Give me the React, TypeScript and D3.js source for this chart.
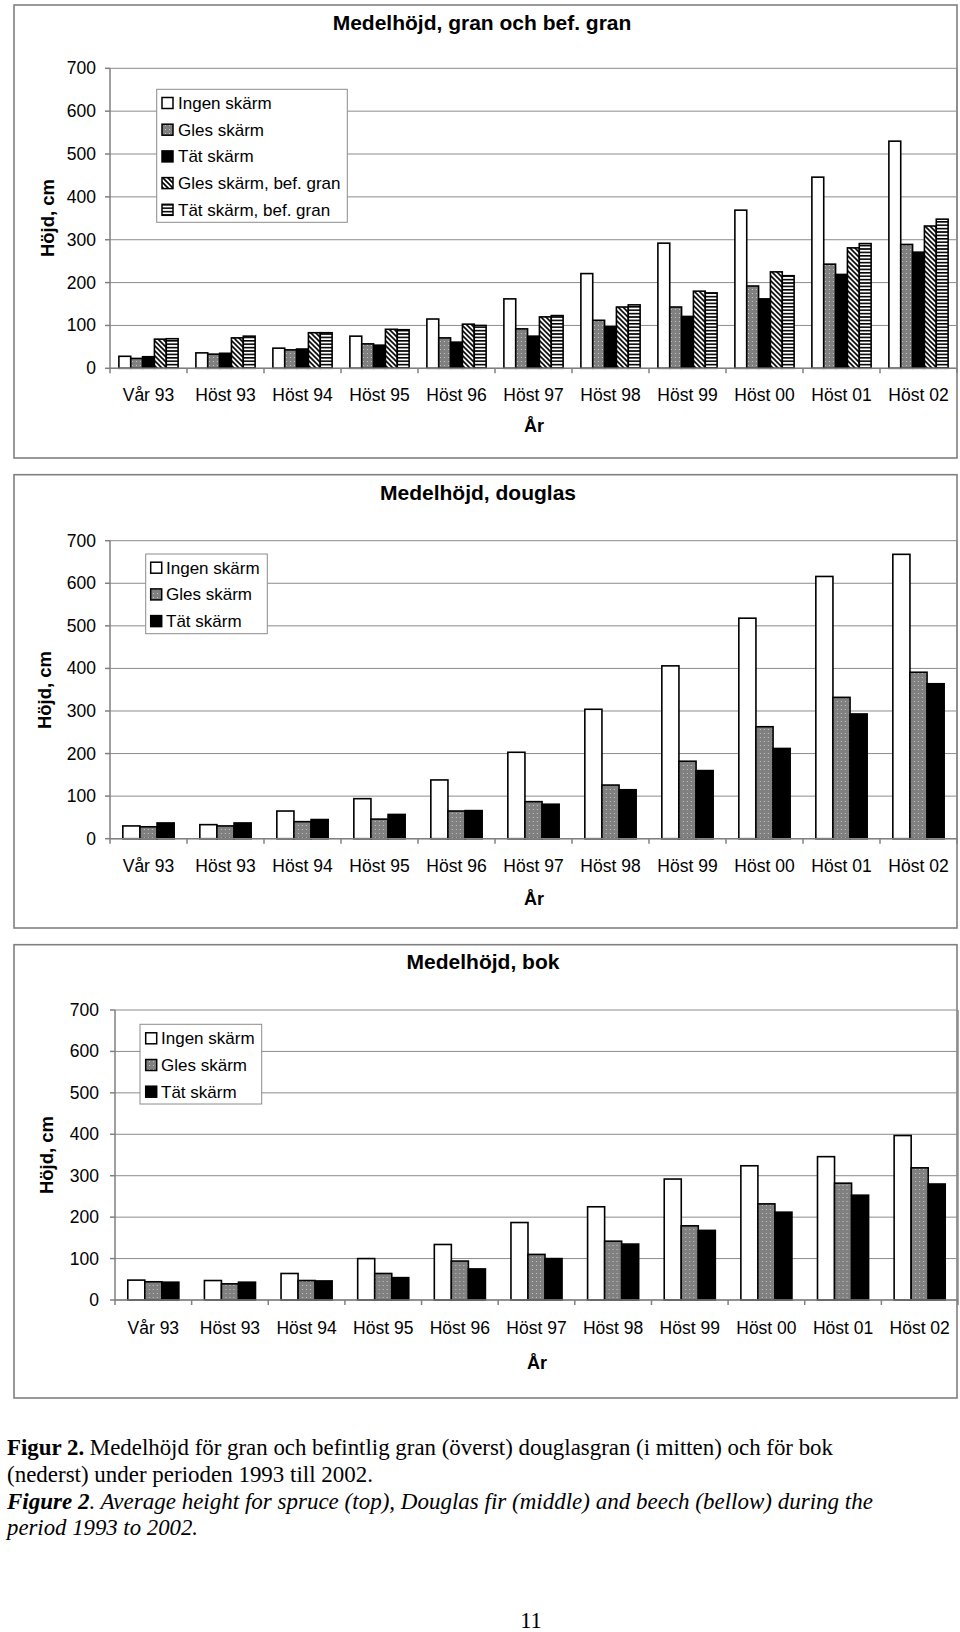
import * as d3 from 'd3';

const categories = ['Vår 93', 'Höst 93', 'Höst 94', 'Höst 95', 'Höst 96', 'Höst 97', 'Höst 98', 'Höst 99', 'Höst 00', 'Höst 01', 'Höst 02'];
const yTicks = [0, 100, 200, 300, 400, 500, 600, 700];

// gran och bef. gran
const granIngen = [28, 36, 47, 75, 115, 162, 221, 292, 369, 446, 530];
const granGles = [23, 33, 43, 57, 71, 92, 112, 143, 192, 243, 289];
const granTat = [27, 35, 45, 54, 61, 75, 97, 121, 162, 219, 271];
const granGlesBef = [68, 71, 83, 91, 103, 120, 143, 180, 225, 281, 332];
const granTatBef = [69, 75, 83, 90, 100, 123, 148, 176, 216, 291, 348];

// douglas
const douglasIngen = [30, 33, 65, 94, 138, 203, 304, 406, 518, 616, 668];
const douglasGles = [28, 30, 40, 46, 65, 87, 126, 182, 263, 332, 391];
const douglasTat = [37, 37, 45, 57, 66, 81, 115, 160, 212, 293, 364];

// bok
const bokIngen = [48, 47, 64, 100, 134, 187, 225, 292, 324, 346, 397];
const bokGles = [44, 39, 47, 64, 94, 110, 142, 179, 232, 282, 319];
const bokTat = [43, 43, 46, 54, 75, 100, 135, 168, 212, 253, 280];

const seriesNames = ['Ingen skärm', 'Gles skärm', 'Tät skärm', 'Gles skärm, bef. gran', 'Tät skärm, bef. gran'];
const fills = ['#ffffff', 'url(#dots)', '#000000', 'url(#hatch)', 'url(#stripes)'];

const SANS = '"Liberation Sans", Arial, sans-serif';
const SERIF = '"Liberation Serif", "Times New Roman", serif';

interface Panel {
  title: string;
  series: number[][];
  box: { x: number; y: number; w: number; h: number };
  plot: { left: number; right: number; top: number; bottom: number };
  titleX: number;
  titleY: number;
  legend: { x: number; y: number; w: number; h: number; rowY: number; swatchX: number; textX: number };
  tickRight: number;
  catY: number;
  arX: number;
  arY: number;
  yTitleX: number;
  yTitleY: number;
}

const panels: Panel[] = [
  {
    title: 'Medelhöjd, gran och bef. gran',
    series: [granIngen, granGles, granTat, granGlesBef, granTatBef],
    box: { x: 14, y: 5, w: 943, h: 453 },
    plot: { left: 110, right: 957, top: 68.3, bottom: 368.3 },
    titleX: 482,
    titleY: 30,
    legend: { x: 156.7, y: 89.3, w: 190.6, h: 133, rowY: 103, swatchX: 162, textX: 178 },
    tickRight: 96,
    catY: 401,
    arX: 534,
    arY: 432,
    yTitleX: 54,
    yTitleY: 218,
  },
  {
    title: 'Medelhöjd, douglas',
    series: [douglasIngen, douglasGles, douglasTat],
    box: { x: 14, y: 474.7, w: 943, h: 453.3 },
    plot: { left: 110, right: 957, top: 540.7, bottom: 838.7 },
    titleX: 478,
    titleY: 500,
    legend: { x: 145.7, y: 554, w: 121.6, h: 79.7, rowY: 567.7, swatchX: 150.7, textX: 166 },
    tickRight: 96,
    catY: 872,
    arX: 534,
    arY: 905,
    yTitleX: 51,
    yTitleY: 690,
  },
  {
    title: 'Medelhöjd, bok',
    series: [bokIngen, bokGles, bokTat],
    box: { x: 14, y: 944.7, w: 943, h: 453.3 },
    plot: { left: 115, right: 958, top: 1010, bottom: 1300 },
    titleX: 483,
    titleY: 969,
    legend: { x: 140, y: 1024.3, w: 121.7, h: 79.7, rowY: 1038.3, swatchX: 145.7, textX: 161 },
    tickRight: 99,
    catY: 1334,
    arX: 537,
    arY: 1369,
    yTitleX: 53,
    yTitleY: 1155,
  },
];

function ChartPanel({ p }: { p: Panel }) {
  const n = p.series.length;
  const x = d3.scaleBand<string>().domain(categories).range([p.plot.left, p.plot.right]);
  const step = x.step();
  const barW = step / (n + 1.5);
  const gap = step - barW * n;
  const inner = d3.scaleBand<number>().domain(d3.range(n)).range([0, barW * n]);
  const y = d3.scaleLinear().domain([0, 700]).range([p.plot.bottom, p.plot.top]);

  return (
    <g>
      <rect x={p.box.x} y={p.box.y} width={p.box.w} height={p.box.h} fill="#fff" stroke="#808080" strokeWidth={1.6} />
      <text x={p.titleX} y={p.titleY} textAnchor="middle" fontFamily={SANS} fontWeight="bold" fontSize={21}>
        {p.title}
      </text>
      {/* gridlines */}
      {yTicks.map((t) => (
        <line key={t} x1={p.plot.left} x2={p.plot.right} y1={y(t)} y2={y(t)} stroke="#8c8c8c" strokeWidth={1} />
      ))}
      <line x1={p.plot.right} x2={p.plot.right} y1={p.plot.top} y2={p.plot.bottom} stroke="#8c8c8c" strokeWidth={1.5} />
      {/* y axis */}
      <line x1={p.plot.left} x2={p.plot.left} y1={p.plot.top} y2={p.plot.bottom} stroke="#808080" strokeWidth={1.5} />
      {yTicks.map((t) => (
        <g key={t}>
          <line x1={p.plot.left - 5} x2={p.plot.left} y1={y(t)} y2={y(t)} stroke="#808080" strokeWidth={1.5} />
          <text x={p.tickRight} y={y(t) + 6} textAnchor="end" fontFamily={SANS} fontSize={17.5}>
            {t}
          </text>
        </g>
      ))}
      {/* bars */}
      {categories.map((c, i) => (
        <g key={c} transform={`translate(${(x(c) ?? 0) + gap / 2},0)`}>
          {p.series.map((s, k) => (
            <rect
              key={k}
              x={inner(k)}
              y={y(s[i])}
              width={inner.bandwidth()}
              height={y(0) - y(s[i])}
              fill={fills[k]}
              stroke="#000"
              strokeWidth={1.6}
            />
          ))}
        </g>
      ))}
      {/* x axis */}
      <line x1={p.plot.left} x2={p.plot.right} y1={y(0)} y2={y(0)} stroke="#808080" strokeWidth={1.5} />
      {categories.map((c) => (
        <line key={c} x1={x(c)} x2={x(c)} y1={y(0)} y2={y(0) + 5} stroke="#808080" strokeWidth={1.5} />
      ))}
      <line x1={p.plot.right} x2={p.plot.right} y1={y(0)} y2={y(0) + 5} stroke="#808080" strokeWidth={1.5} />
      {categories.map((c) => (
        <text key={c} x={(x(c) ?? 0) + step / 2} y={p.catY} textAnchor="middle" fontFamily={SANS} fontSize={17.5}>
          {c}
        </text>
      ))}
      <text x={p.arX} y={p.arY} textAnchor="middle" fontFamily={SANS} fontWeight="bold" fontSize={18}>
        År
      </text>
      <text
        transform={`translate(${p.yTitleX},${p.yTitleY}) rotate(-90)`}
        textAnchor="middle"
        fontFamily={SANS}
        fontWeight="bold"
        fontSize={18.5}
      >
        Höjd, cm
      </text>
      {/* legend */}
      <rect x={p.legend.x} y={p.legend.y} width={p.legend.w} height={p.legend.h} fill="#fff" stroke="#8c8c8c" strokeWidth={1} />
      {p.series.map((_, k) => {
        const ry = p.legend.rowY + k * 26.7;
        return (
          <g key={k}>
            <rect x={p.legend.swatchX} y={ry - 5.5} width={11} height={11} fill={fills[k]} stroke="#000" strokeWidth={1.5} />
            <text x={p.legend.textX} y={ry + 6} fontFamily={SANS} fontSize={17}>
              {seriesNames[k]}
            </text>
          </g>
        );
      })}
    </g>
  );
}

export default function App() {
  return (
    <div style={{ position: 'absolute', left: 0, top: 0 }}>
      <svg width={960} height={1632} style={{ display: 'block', background: '#fff' }}>
        <defs>
          <pattern id="dots" width={4} height={4} patternUnits="userSpaceOnUse">
            <rect width={4} height={4} fill="#808080" />
            <rect x={1} y={1} width={1} height={1} fill="#c8c8c8" />
          </pattern>
          <pattern id="hatch" width={5} height={5} patternUnits="userSpaceOnUse">
            <rect width={5} height={5} fill="#fff" />
            <path d="M-1,-1 L6,6 M-1,4 L1,6 M4,-1 L6,1" stroke="#000" strokeWidth={1.6} />
          </pattern>
          <pattern id="stripes" width={4} height={3.4} patternUnits="userSpaceOnUse">
            <rect width={4} height={3.4} fill="#fff" />
            <rect y={0} width={4} height={1.6} fill="#000" />
          </pattern>
        </defs>
        <rect width={960} height={1632} fill="#fff" />
        {panels.map((p) => (
          <ChartPanel key={p.title} p={p} />
        ))}
        <g fontFamily={SERIF} fontSize={22.5}>
          <text x={7} y={1455} textLength={826} lengthAdjust="spacingAndGlyphs">
            <tspan fontWeight="bold">Figur 2.</tspan> Medelhöjd för gran och befintlig gran (överst) douglasgran (i mitten) och för bok
          </text>
          <text x={7} y={1482} textLength={366} lengthAdjust="spacingAndGlyphs">
            (nederst) under perioden 1993 till 2002.
          </text>
          <text x={7} y={1509} fontStyle="italic" textLength={866} lengthAdjust="spacingAndGlyphs">
            <tspan fontWeight="bold">Figure 2</tspan>. Average height for spruce (top), Douglas fir (middle) and beech (bellow) during the
          </text>
          <text x={7} y={1535} fontStyle="italic" textLength={191} lengthAdjust="spacingAndGlyphs">
            period 1993 to 2002.
          </text>
          <text x={531} y={1628} textAnchor="middle">
            11
          </text>
        </g>
      </svg>
    </div>
  );
}
